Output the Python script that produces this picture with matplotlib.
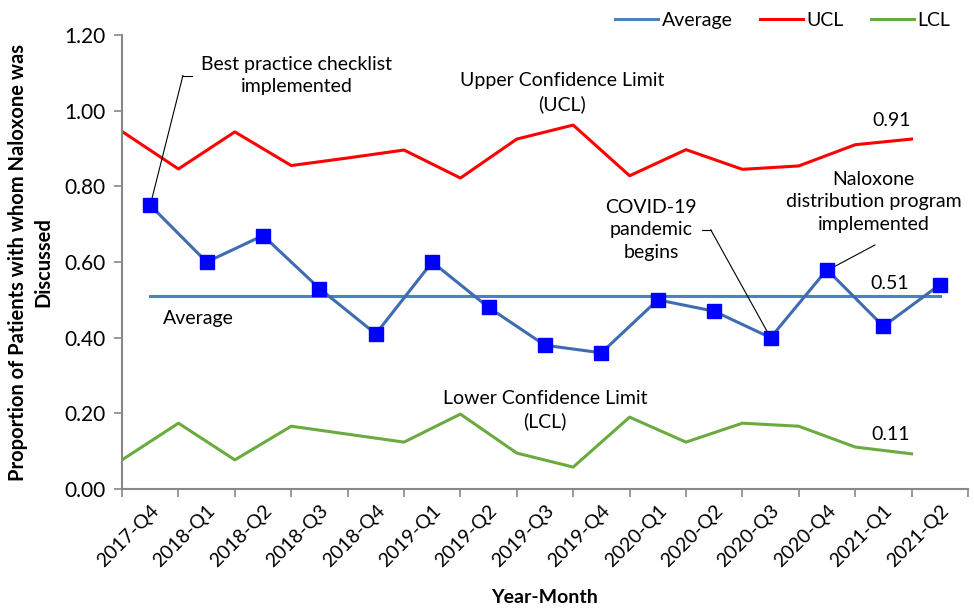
import matplotlib
matplotlib.use("Agg")
import matplotlib.pyplot as plt
import numpy as np

plt.rcParams['font.family'] = ['Lato', 'DejaVu Sans']

quarters = ['2017-Q4', '2018-Q1', '2018-Q2', '2018-Q3', '2018-Q4', '2019-Q1', '2019-Q2',
            '2019-Q3', '2019-Q4', '2020-Q1', '2020-Q2', '2020-Q3', '2020-Q4', '2021-Q1', '2021-Q2']
proportion = [0.75, 0.60, 0.67, 0.53, 0.41, 0.60, 0.48, 0.38, 0.36, 0.50, 0.47, 0.40, 0.58, 0.43, 0.54]
average = 0.51
ucl = [0.945, 0.846, 0.944, 0.855, 0.875, 0.896, 0.822, 0.925, 0.962, 0.828, 0.897, 0.845, 0.854, 0.910, 0.925]
lcl = [0.077, 0.174, 0.077, 0.166, 0.145, 0.124, 0.198, 0.095, 0.058, 0.190, 0.124, 0.174, 0.166, 0.111, 0.093]

x = np.arange(len(quarters))
xl = x - 0.5  # control limits sit on the category boundaries

fig = plt.figure(figsize=(9.74, 6.09), dpi=100)
ax = fig.add_axes([0.1253, 0.197, 0.8685, 0.7455])

ax.plot(x, [average] * len(x), color='#4F81BD', lw=2.2, label='Average', zorder=2)
ax.plot(xl, ucl, color='#FF0000', lw=2.2, label='UCL', zorder=2)
ax.plot(xl, lcl, color='#6AAB3F', lw=2.2, label='LCL', zorder=2)
ax.plot(x, proportion, color='#3F6CB0', lw=2.2, marker='s', markersize=10,
        markerfacecolor='#0000FF', markeredgecolor='#0000FF', zorder=3)

ax.set_xlim(-0.5, len(quarters) - 0.5)
ax.set_ylim(0, 1.2)
ax.set_yticks(np.arange(0, 1.21, 0.2))
ax.set_yticklabels(['%.2f' % v for v in np.arange(0, 1.21, 0.2)], fontsize=15)
ax.set_xticks(x)
ax.set_xticklabels(quarters, rotation=45, ha='right', rotation_mode='anchor', fontsize=14)
ax.set_xticks(np.arange(-0.5, len(quarters)), minor=True)
ax.tick_params(axis='x', which='major', length=0, pad=9)
ax.tick_params(axis='x', which='minor', length=6, color='#888888', width=1.2)
ax.tick_params(axis='y', length=6, color='#888888', width=1.2, pad=6)
for s in ['top', 'right']:
    ax.spines[s].set_visible(False)
for s in ['left', 'bottom']:
    ax.spines[s].set_color('#888888')
    ax.spines[s].set_linewidth(1.5)

ax.set_ylabel('Proportion of Patients with whom Naloxone was\nDiscussed', fontsize=14.5,
              fontweight='bold', labelpad=8, linespacing=1.3)
ax.set_xlabel('Year-Month', fontsize=14, fontweight='bold', labelpad=14)

# text labels
tk = dict(fontsize=14, ha='center', va='center', linespacing=1.4)
ax.text(2.6, 1.093, 'Best practice checklist\nimplemented', **tk)
ax.text(7.3, 1.047, 'Upper Confidence Limit\n(UCL)', **tk)
ax.text(7.0, 0.209, 'Lower Confidence Limit\n(LCL)', **tk)
ax.text(0.85, 0.45, 'Average', **tk)
ax.text(13.15, 0.975, '0.91', **tk)
ax.text(13.12, 0.542, '0.51', **tk)
ax.text(13.12, 0.145, '0.11', **tk)
ax.text(8.88, 0.685, 'COVID-19\npandemic\nbegins', **tk)
ax.text(12.83, 0.759, 'Naloxone\ndistribution program\nimplemented', **tk)

# leader lines
lk = dict(color='black', lw=0.8)
ax.plot([0.74, 0.58], [1.093, 1.093], **lk)
ax.plot([0.58, 0.0], [1.093, 0.75], **lk)
ax.plot([9.78, 9.94], [0.685, 0.685], **lk)
ax.plot([9.94, 11.0], [0.685, 0.40], **lk)
ax.plot([12.85, 12.02], [0.645, 0.579], **lk)

ax.legend(loc='lower right', bbox_to_anchor=(1.0, 0.975), ncol=3, frameon=False,
          fontsize=14, handlelength=2.2, columnspacing=1.4, handletextpad=0.2)

fig.savefig('out.png', dpi=100)
